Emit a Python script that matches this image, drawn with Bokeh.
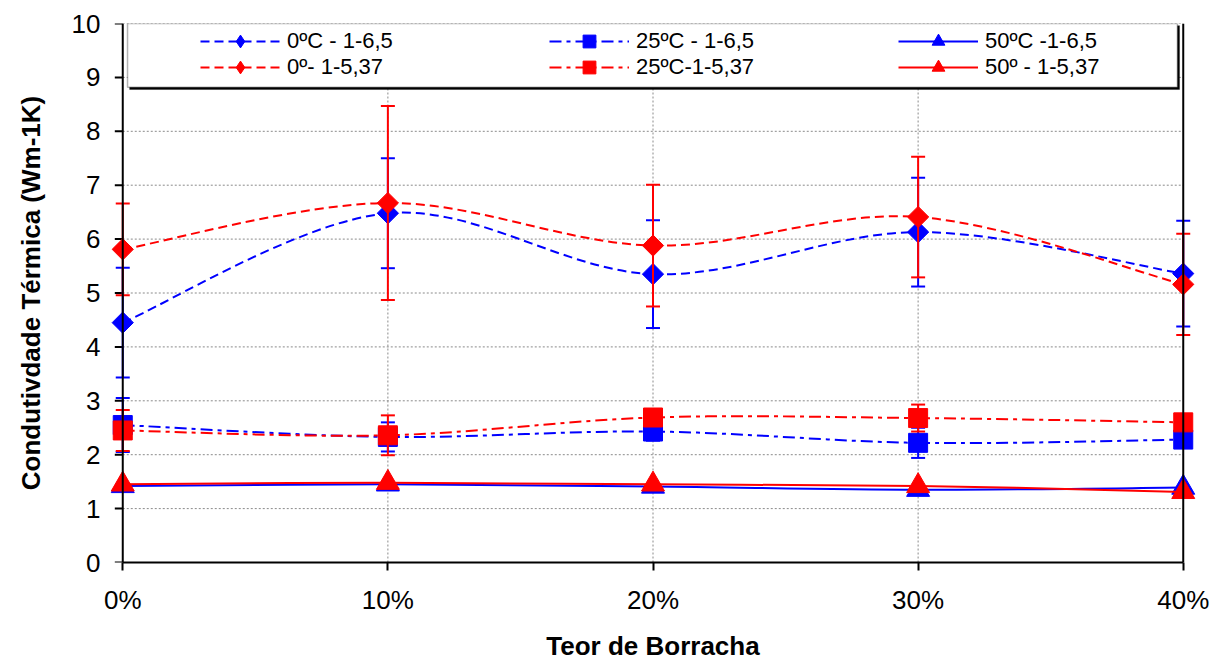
import numpy as np
from bokeh.plotting import figure
from bokeh.models import (Range1d, LinearAxis, FixedTicker, Legend, LegendItem,
                          Span, BoxAnnotation)
from bokeh.embed import file_html
from bokeh.resources import INLINE

# ---------------- data ----------------
x_cats = [0, 10, 20, 30, 40]
x_labels = ["0%", "10%", "20%", "30%", "40%"]
y_ticks = [0, 1, 2, 3, 4, 5, 6, 7, 8, 9, 10]

b0_y = [4.45, 6.48, 5.35, 6.13, 5.36]
b0_err = [1.02, 1.02, 1.00, 1.01, 0.98]
b25_y = [2.55, 2.33, 2.43, 2.22, 2.28]
b25_err = [0.50, 0.27, 0.17, 0.28, 0.10]
b50_y = [1.42, 1.45, 1.41, 1.35, 1.39]

r0_y = [5.81, 6.67, 5.88, 6.41, 5.16]
r0_err = [0.85, 1.80, 1.13, 1.12, 0.94]
r25_y = [2.45, 2.36, 2.69, 2.68, 2.60]
r25_err = [0.38, 0.37, 0.12, 0.25, 0.10]
r50_y = [1.45, 1.48, 1.45, 1.42, 1.31]

labels = ["0ºC - 1-6,5", "25ºC - 1-6,5", "50ºC -1-6,5",
          "0º- 1-5,37", "25ºC-1-5,37", "50º - 1-5,37"]

BLUE = "#0000FF"
RED = "#FF0000"
FONT = "Liberation Sans"
TICK_LEN_X = 0.3  # y-axis tick length, in x units (~8px)

series = [
    dict(y=b0_y, err=b0_err, color=BLUE, dash="9 5", kind="diamond", label=labels[0]),
    dict(y=b25_y, err=b25_err, color=BLUE, dash="12 5 4 5", kind="square", label=labels[1]),
    dict(y=b50_y, err=None, color=BLUE, dash="solid", kind="triangle", label=labels[2]),
    dict(y=r0_y, err=r0_err, color=RED, dash="9 5", kind="diamond", label=labels[3]),
    dict(y=r25_y, err=r25_err, color=RED, dash="12 5 4 5", kind="square", label=labels[4]),
    dict(y=r50_y, err=None, color=RED, dash="solid", kind="triangle", label=labels[5]),
]

# ---------------- figure ----------------
p = figure(width=1226, height=663, output_backend="svg", toolbar_location=None,
           x_range=Range1d(-0.5, 40.5), y_range=Range1d(0, 10),
           x_axis_type=None, y_axis_type=None,
           min_border_left=109, min_border_right=30, min_border_top=23, min_border_bottom=100)
p.outline_line_color = None
p.background_fill_color = "white"
p.border_fill_color = "white"

# gridlines (dotted grey) limited to the plot area
gy = y_ticks[1:]
p.segment(x0=[x_cats[0]] * len(gy), x1=[x_cats[-1]] * len(gy), y0=gy, y1=gy,
          line_color="#8a8a8a", line_width=1, line_dash="2 2")
gx = x_cats[1:-1]
p.segment(x0=gx, x1=gx, y0=[y_ticks[0]] * len(gx), y1=[y_ticks[-1]] * len(gx),
          line_color="#8a8a8a", line_width=1, line_dash="2 2")

# y-axis tick marks at x = 0 (outward)
p.segment(x0=[x_cats[0] - TICK_LEN_X] * len(y_ticks), x1=[x_cats[0]] * len(y_ticks),
          y0=y_ticks, y1=y_ticks, line_color="black", line_width=2)

# axes
xaxis = LinearAxis(ticker=FixedTicker(ticks=x_cats), bounds=(x_cats[0], x_cats[-1]),
                   major_label_overrides={x: l for x, l in zip(x_cats, x_labels)},
                   axis_label="Teor de Borracha")
yaxis = LinearAxis(ticker=FixedTicker(ticks=y_ticks),
                   axis_label="Condutivdade Térmica (Wm-1K)")
for ax in (xaxis, yaxis):
    ax.axis_line_color = "black"
    ax.axis_line_width = 2
    ax.major_tick_line_color = "black"
    ax.major_tick_line_width = 2
    ax.major_tick_out = 8
    ax.major_tick_in = 0
    ax.minor_tick_line_color = None
    ax.major_label_text_font = FONT
    ax.major_label_text_font_size = "26px"
    ax.major_label_text_color = "black"
    ax.axis_label_text_font = FONT
    ax.axis_label_text_font_style = "bold"
    ax.axis_label_text_font_size = "26px"
    ax.axis_label_text_color = "black"
xaxis.major_label_standoff = 14
xaxis.axis_label_standoff = 13
yaxis.axis_line_color = None
yaxis.major_tick_line_color = None
yaxis.major_tick_out = 0
yaxis.major_label_standoff = 9
yaxis.axis_label_standoff = 23
p.add_layout(xaxis, "below")
p.add_layout(yaxis, "left")

# y-axis line at x = 0 and right border of plot area
p.add_layout(Span(location=x_cats[0], dimension="height", line_color="black", line_width=2))
p.add_layout(Span(location=x_cats[-1], dimension="height", line_color="black", line_width=2))


def smooth(xs, ys, t=6.0):
    n = len(xs)
    d = dict(x0=[], y0=[], x1=[], y1=[], cx0=[], cy0=[], cx1=[], cy1=[])
    for i in range(n - 1):
        ip = max(i - 1, 0)
        inx = min(i + 2, n - 1)
        d["x0"].append(xs[i]); d["y0"].append(ys[i])
        d["x1"].append(xs[i + 1]); d["y1"].append(ys[i + 1])
        d["cx0"].append(xs[i] + (xs[i + 1] - xs[ip]) / t)
        d["cy0"].append(ys[i] + (ys[i + 1] - ys[ip]) / t)
        d["cx1"].append(xs[i + 1] - (xs[inx] - xs[i]) / t)
        d["cy1"].append(ys[i + 1] - (ys[inx] - ys[i]) / t)
    return d


MARKERS = {
    "diamond": dict(marker="square", angle=np.pi / 4, size=15, legend_marker="diamond"),
    "square": dict(marker="square", angle=0, size=19, legend_marker="square"),
    "triangle": dict(marker="triangle", angle=0, size=23, legend_marker="triangle"),
}

legend_items = []
for s in series:
    c = s["color"]
    m = MARKERS[s["kind"]]
    p.bezier(source=smooth(x_cats, s["y"]), x0="x0", y0="y0", x1="x1", y1="y1",
             cx0="cx0", cy0="cy0", cx1="cx1", cy1="cy1",
             line_color=c, line_width=2, line_dash=s["dash"])
    if s["err"] is not None:
        lo = [v - e for v, e in zip(s["y"], s["err"])]
        hi = [v + e for v, e in zip(s["y"], s["err"])]
        p.segment(x0=x_cats, x1=x_cats, y0=lo, y1=hi, line_color=c, line_width=2)
        p.scatter(x=x_cats + x_cats, y=lo + hi, marker="dash", size=14,
                  line_color=c, line_width=2)
    p.scatter(x=x_cats, y=s["y"], marker=m["marker"], angle=m["angle"], size=m["size"],
              fill_color=c, line_color=c, line_width=1)
    leg_line = p.line(x=x_cats, y=s["y"], line_color=c, line_width=2, line_dash=s["dash"],
                      visible=False)
    leg_mk = p.scatter(x=x_cats, y=s["y"], marker=m["legend_marker"], size=m["size"],
                       fill_color=c, line_color=c, line_width=1, visible=False)
    legend_items.append(LegendItem(label=s["label"], renderers=[leg_line, leg_mk]))

# legend frame (with shadow)
lx0, lx1 = 0.18, 39.78
ly0, ly1 = 8.815, 10.0
dx, dy = 0.08, 0.04
p.add_layout(BoxAnnotation(left=lx0 + dx, right=lx1 + dx, bottom=ly0 - dy, top=ly1 - dy,
                           fill_color="black", fill_alpha=1.0, line_color="black"))
p.add_layout(BoxAnnotation(left=lx0, right=lx1, bottom=ly0, top=ly1,
                           fill_color="white", fill_alpha=1.0, line_color="black",
                           line_width=1.5))

for row, yloc in ((legend_items[:3], 505), (legend_items[3:], 479)):
    lg = Legend(items=row, orientation="horizontal", location=(91, yloc),
                glyph_width=80, glyph_height=32, label_standoff=7, label_width=262,
                label_height=26, spacing=0, padding=0, margin=0,
                border_line_color=None, background_fill_alpha=0,
                label_text_font=FONT, label_text_font_size="22px", label_text_color="black")
    p.add_layout(lg, "center")

open("out.html", "w").write(file_html(p, INLINE))
